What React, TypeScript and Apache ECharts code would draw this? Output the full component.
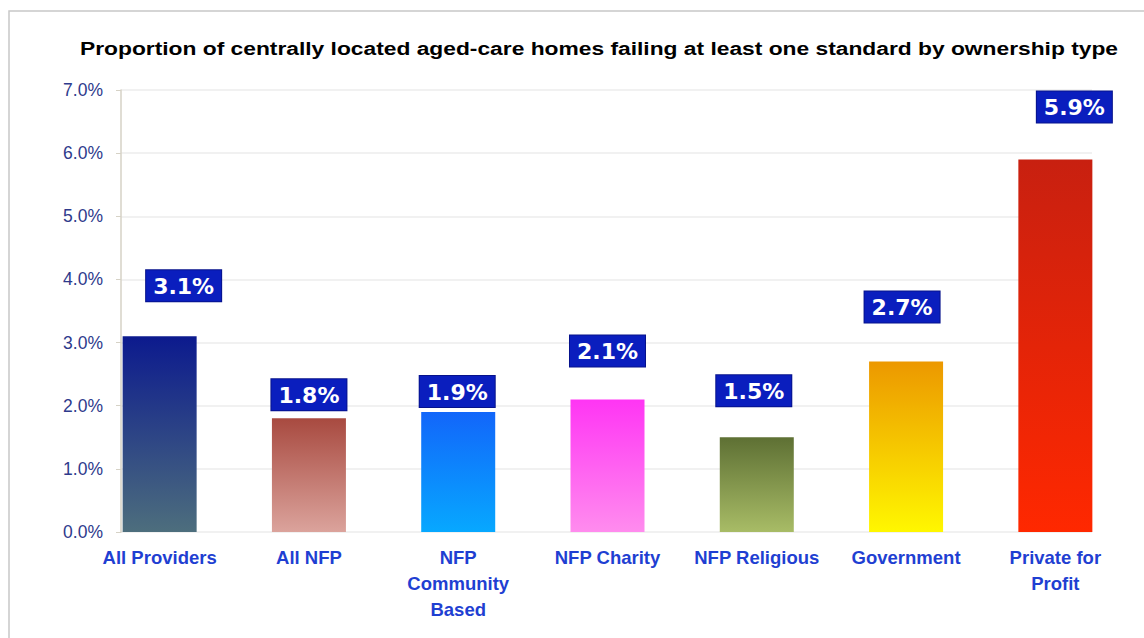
import React, { useEffect, useRef } from "react";
import * as echarts from "echarts";

const title = "Proportion of centrally located aged-care homes failing at least one standard by ownership type";
const categories = ["All Providers", "All NFP", "NFP\nCommunity\nBased", "NFP Charity", "NFP Religious", "Government", "Private for\nProfit"];
const values = [3.1, 1.8, 1.9, 2.1, 1.5, 2.7, 5.9];
const topColors = ["#0c1a8e", "#a84a40", "#1266fa", "#ff35f4", "#5e7034", "#ec9800", "#c82010"];
const bottomColors = ["#4d6e7d", "#dba39c", "#07a8ff", "#ff8cee", "#a8bc66", "#fff700", "#ff2800"];
const labelOffsets: [number, number][] = [[24, -35], [0, -8], [-1, -5], [0, -33], [-3, -31], [-4, -39], [19, -37]];
const yMin = 0;
const yMax = 7;
const yInterval = 1;

export default function App() {
  const ref = useRef<HTMLDivElement>(null);
  useEffect(() => {
    document.body.style.margin = "0";
    const chart = echarts.init(ref.current!, null, { renderer: "svg" });
    const data = values.map((v, i) => ({
      value: v,
      itemStyle: {
        color: new echarts.graphic.LinearGradient(0, 0, 0, 1, [
          { offset: 0, color: topColors[i] },
          { offset: 1, color: bottomColors[i] },
        ]),
      },
      label: { offset: labelOffsets[i] },
    }));
    chart.setOption({
      animation: false,
      backgroundColor: "#ffffff",
      graphic: [
        {
          type: "rect",
          shape: { x: 9, y: 11, width: 1200, height: 700 },
          style: { fill: "none", stroke: "#c8c8c8", lineWidth: 1.5 },
          silent: true,
        },
        {
          type: "text",
          x: 599,
          y: 48,
          scaleX: 1.2,
          style: {
            text: title,
            x: 0,
            y: 0,
            align: "center",
            verticalAlign: "middle",
            fill: "#000000",
            fontFamily: "Liberation Sans, Arial",
            fontWeight: "bold",
            fontSize: 19,
          },
        },
      ],
      grid: [
        { left: 85, right: 14, top: 90, bottom: 106 },
        { left: 121, right: 52, top: 90, bottom: 106 },
      ],
      xAxis: [
        {
          type: "category",
          gridIndex: 0,
          data: categories,
          axisLine: { show: false },
          axisTick: { show: false },
          axisLabel: {
            interval: 0,
            margin: 12,
            color: "#1f3fd2",
            fontFamily: "Liberation Sans, Arial",
            fontWeight: "bold",
            fontSize: 18.5,
            lineHeight: 26,
          },
        },
        {
          type: "category",
          gridIndex: 1,
          data: categories,
          show: false,
        },
      ],
      yAxis: [
        { type: "value", gridIndex: 0, min: yMin, max: yMax, interval: yInterval, show: false },
        {
          type: "value",
          gridIndex: 1,
          min: yMin,
          max: yMax,
          interval: yInterval,
          axisLine: { show: true, lineStyle: { color: "#d6d2c6", width: 1.5 } },
          axisTick: { show: true, length: 5, lineStyle: { color: "#d6d2c6" } },
          splitLine: { show: true, lineStyle: { color: "#ececec", width: 1.5 } },
          axisLabel: {
            margin: 18,
            color: "#2e3a8c",
            fontFamily: "Liberation Sans, Arial",
            fontSize: 17.5,
            formatter: (v: number) => v.toFixed(1) + "%",
          },
        },
      ],
      series: [
        {
          type: "bar",
          xAxisIndex: 0,
          yAxisIndex: 0,
          barWidth: 74,
          data,
          label: {
            show: true,
            position: "top",
            distance: 0,
            formatter: (p: any) => p.value.toFixed(1) + "%",
            color: "#ffffff",
            fontFamily: "DejaVu Sans, Verdana",
            fontWeight: "bold",
            fontSize: 22,
            lineHeight: 26,
            backgroundColor: "#0a1ebe",
            borderColor: "#06128c",
            borderWidth: 1,
            padding: [3, 7, 2, 7],
          },
        },
      ],
    });
    return () => chart.dispose();
  }, []);
  return <div ref={ref} style={{ width: 1144, height: 638, position: "absolute", left: 0, top: 0 }} />;
}
